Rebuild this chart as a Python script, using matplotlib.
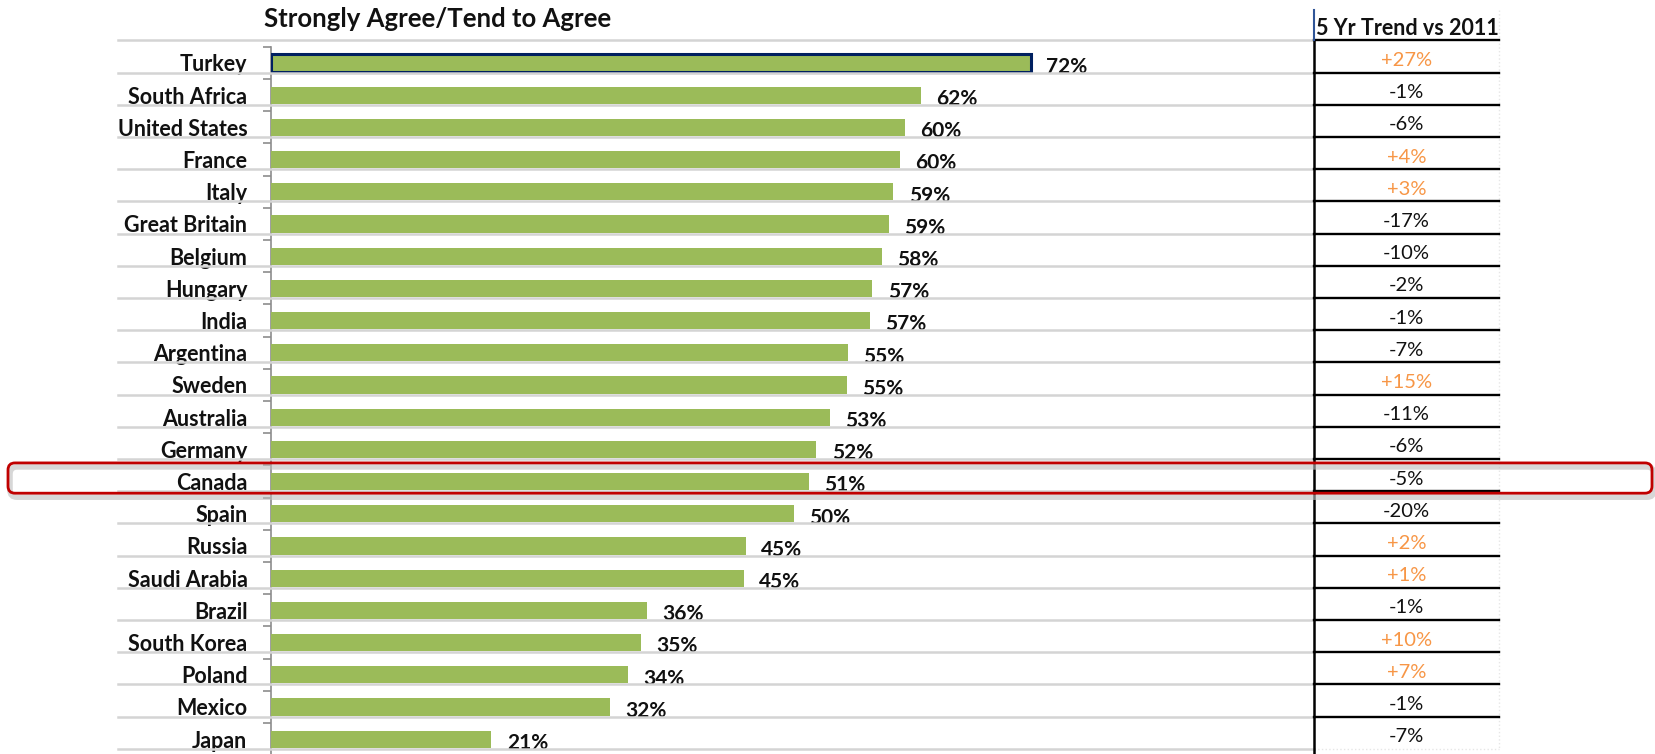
import numpy as np
import matplotlib
matplotlib.use("Agg")
import matplotlib.pyplot as plt
from matplotlib.patches import FancyBboxPatch
from matplotlib.transforms import IdentityTransform

countries = ['Turkey', 'South Africa', 'United States', 'France', 'Italy', 'Great Britain',
             'Belgium', 'Hungary', 'India', 'Argentina', 'Sweden', 'Australia', 'Germany',
             'Canada', 'Spain', 'Russia', 'Saudi Arabia', 'Brazil', 'South Korea', 'Poland',
             'Mexico', 'Japan']
agree = [72.0, 61.6, 60.1, 59.6, 59.0, 58.6, 57.9, 57.0, 56.8, 54.7, 54.6, 53.0, 51.7,
         51.0, 49.6, 45.0, 44.8, 35.6, 35.1, 33.8, 32.1, 20.9]
trend = ['+27%', '-1%', '-6%', '+4%', '+3%', '-17%', '-10%', '-2%', '-1%', '-7%', '+15%',
         '-11%', '-6%', '-5%', '-20%', '+2%', '+1%', '-1%', '+10%', '+7%', '-1%', '-7%']
highlight = 'Canada'

plt.rcParams['font.family'] = ['Lato', 'DejaVu Sans']

W, H = 1655, 754
fig = plt.figure(figsize=(W/100, H/100), dpi=100, facecolor='w')
# px per percent ~10.55, row pitch ~32.2 px
ppx = 10.55
pitch = 32.2
ax_l, ax_r = 271, 1314
ax = fig.add_axes([ax_l/W, 0, (ax_r-ax_l)/W, 1])
ax.set_xlim(0, (ax_r-ax_l)/ppx)
y0 = 63
ax.set_ylim((H-y0)/pitch, -y0/pitch)
ax.patch.set_alpha(0)

n = len(countries)
ys = np.arange(n)
green = '#9BBB59'
bars = ax.barh(ys, agree, height=0.53, color=green, zorder=3)
bars[0].set_edgecolor('#002060')
bars[0].set_linewidth(2.2)

for y, v in zip(ys, agree):
    ax.text(v + 1.45, y + 0.12, f"{round(v)}%", ha='left', va='center',
            fontsize=15, fontweight='bold', color='#111111', zorder=2)

# axes / ticks
for s in ['top', 'right', 'bottom']:
    ax.spines[s].set_visible(False)
ax.spines['left'].set_color('#8c8c8c')
ax.spines['left'].set_linewidth(1.2)
ax.spines['left'].set_bounds(-0.5, (H-y0)/pitch)
ax.set_xticks([])
ax.set_yticks(ys)
ax.set_yticklabels(countries, fontsize=15.5, fontweight='bold', color='#111111')
ax.tick_params(axis='y', which='major', length=0, pad=17)
ax.set_yticks(ys - 0.5, minor=True)
ax.tick_params(axis='y', which='minor', length=6, width=1.2, color='#8c8c8c')

# row separator lines
x_left = (118-ax_l)/ppx
x_tab_l = (ax_r-ax_l)/ppx
x_tab_r = (1499-ax_l)/ppx
for y in np.arange(-1, n) + 0.3:
    ax.plot([x_left, x_tab_l], [y, y], color='#d4d4d4', lw=1.8, clip_on=False, zorder=4)
    if y < n - 1:
        ax.plot([x_tab_l, x_tab_r], [y, y], color='black', lw=1.7, clip_on=False, zorder=4)
ax.plot([x_tab_l, x_tab_r], [n - 0.7, n - 0.7], color='#e6e6e6', lw=1, ls=':', clip_on=False)
ax.plot([x_tab_r, x_tab_r], [-1.65, n - 0.7], color='#e6e6e6', lw=1, ls=':', clip_on=False)

# table
ax.plot([x_tab_l, x_tab_l], [-0.7, (H-y0)/pitch], color='black', lw=1.8, clip_on=False, zorder=4)
ax.plot([x_tab_l, x_tab_l], [-1.65, -0.7], color='#2f5597', lw=1.5, clip_on=False, zorder=4)
ax.text(x_tab_l + 0.2, -1.07, '5 Yr Trend vs 2011', ha='left', va='center',
        fontsize=15.5, fontweight='bold', color='#111111')
xc = (x_tab_l + x_tab_r) / 2
for y, t in zip(ys, trend):
    col = '#F79646' if t.startswith('+') else '#111111'
    ax.text(xc, y - 0.08, t, ha='center', va='center', fontsize=14.5, color=col)

ax.text((264-ax_l)/ppx, -1.37, 'Strongly Agree/Tend to Agree', ha='left', va='center',
        fontsize=18.5, fontweight='bold', color='#111111')

# highlight box around Canada row
fig.canvas.draw()
k = countries.index(highlight)
_, py_top = ax.transData.transform((0, k - 0.58))
_, py_bot = ax.transData.transform((0, k + 0.36))
bx0, bx1 = 8, 1652
shadow = FancyBboxPatch((bx0 + 2, py_bot - 4), bx1 - bx0, py_top - py_bot,
                        boxstyle='round,pad=0,rounding_size=7', transform=IdentityTransform(),
                        fc='none', ec='#bdbdbd', lw=4, alpha=0.6, zorder=5)
box = FancyBboxPatch((bx0, py_bot), bx1 - bx0, py_top - py_bot,
                     boxstyle='round,pad=0,rounding_size=7', transform=IdentityTransform(),
                     fc='none', ec='#C00000', lw=2, zorder=6)
fig.add_artist(shadow)
fig.add_artist(box)

fig.savefig('out.png', dpi=100)
